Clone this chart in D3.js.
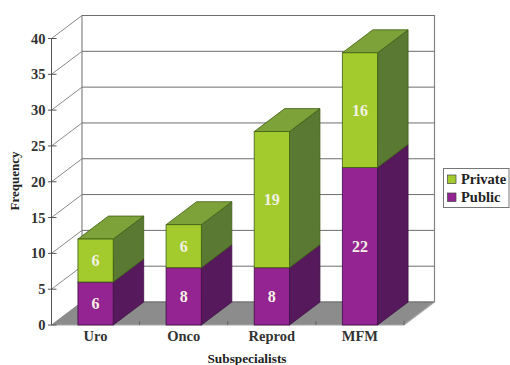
<!DOCTYPE html>
<html>
<head>
<meta charset="utf-8">
<script src="https://cdn.jsdelivr.net/npm/d3@7"></script>
<style>
html,body{margin:0;padding:0;background:#fff}
svg{display:block}
text{font-family:"Liberation Serif",serif;font-weight:bold}
</style>
</head>
<body>
<svg id="chart" width="510" height="365"></svg>
<script>
// Stacked 3D column chart of subspecialist frequency by practice type
const categories = ["Uro", "Onco", "Reprod", "MFM"];
const publicValues = [6, 8, 8, 22];
const privateValues = [6, 6, 19, 16];
const yTicks = [0, 5, 10, 15, 20, 25, 30, 35, 40];
const seriesNames = ["Private", "Public"];

const depthX = 30.5, depthY = -23;
const svg = d3.select("#chart");

const x = d3.scaleBand().domain(categories).range([51.5, 404]).paddingInner(0.6).paddingOuter(0.3);
const y = d3.scaleLinear().domain([0, 40]).range([325, 38.5]);

const faces = {
  Public:  {front: "#942491", side: "#561a5c", top: "#6c2070", stroke: "#3c0f44"},
  Private: {front: "#a3cb2e", side: "#5a7a33", top: "#7ea23a", stroke: "#3f5e14"}
};

const poly = pts => pts.map(p => p.join(",")).join(" ");
const x0 = x.range()[0], x1 = x.range()[1], y0 = y(0), yTop = y(40);

// Floor and back/side walls
svg.append("polygon")
  .attr("points", poly([[x0, y0], [x1, y0], [x1 + depthX, y0 + depthY], [x0 + depthX, y0 + depthY]]))
  .attr("fill", "#8c8c8c");
svg.append("polyline")
  .attr("points", poly([[x0 + depthX, y0 + depthY], [x0 + depthX, yTop + depthY], [x1 + depthX, yTop + depthY], [x1 + depthX, y0 + depthY], [x0 + depthX, y0 + depthY]]))
  .attr("fill", "#fff").attr("stroke", "#858585").attr("stroke-width", 1.2);

// Gridlines on the back wall and their returns on the left wall
const grid = svg.append("g").attr("fill", "none").attr("stroke-width", 1);
yTicks.forEach(t => {
  grid.append("line").attr("x1", x0).attr("y1", y(t)).attr("x2", x0 + depthX).attr("y2", y(t) + depthY).attr("stroke", "#8a8a8a");
  grid.append("line").attr("x1", x0 + depthX).attr("y1", y(t) + depthY).attr("x2", x1 + depthX).attr("y2", y(t) + depthY).attr("stroke", "#6e6e6e");
});

// Axis lines, ticks and the front edges of the floor
const axes = svg.append("g").attr("fill", "none");
axes.append("line").attr("x1", x0).attr("x2", x0).attr("y1", y0).attr("y2", yTop).attr("stroke", "#555");
axes.append("polyline").attr("points", poly([[x0, y0], [x1, y0], [x1 + depthX, y0 + depthY]])).attr("stroke", "#a6a6a6").attr("stroke-width", 1.2);
yTicks.forEach(t => {
  axes.append("line").attr("x1", x0 - 3.5).attr("x2", x0 + 5).attr("y1", y(t)).attr("y2", y(t)).attr("stroke", "#555");
  svg.append("text").attr("x", 45.5).attr("y", y(t) + 5).attr("text-anchor", "end").attr("font-size", 14.5).attr("fill", "#333").text(t);
});
const step = x.step();
categories.forEach((c, i) => {
  const tx = x(c) + x.bandwidth() + (step - x.bandwidth()) / 2;
  axes.append("line").attr("x1", tx).attr("x2", tx).attr("y1", y0 - 4).attr("y2", y0).attr("stroke", "#666");
  svg.append("text").attr("x", x(c) + x.bandwidth() / 2).attr("y", 341).attr("text-anchor", "middle").attr("font-size", 14.5).attr("fill", "#333").text(c);
});

// One cuboid per stacked segment
function drawSegment(g, cat, lo, hi, style, label) {
  const l = x(cat), r = l + x.bandwidth();
  const yb = y(lo), yt = y(hi);
  g.append("polygon").attr("points", poly([[r, yb], [r + depthX, yb + depthY], [r + depthX, yt + depthY], [r, yt]]))
    .attr("fill", style.side).attr("stroke", style.stroke).attr("stroke-width", 0.8);
  g.append("polygon").attr("points", poly([[l, yt], [r, yt], [r + depthX, yt + depthY], [l + depthX, yt + depthY]]))
    .attr("fill", style.top).attr("stroke", style.stroke).attr("stroke-width", 0.8);
  g.append("rect").attr("x", l).attr("y", yt).attr("width", r - l).attr("height", yb - yt)
    .attr("fill", style.front).attr("stroke", style.stroke).attr("stroke-width", 0.8);
  g.append("text").attr("x", (l + r) / 2).attr("y", (yb + yt) / 2 + 5.5)
    .attr("text-anchor", "middle").attr("font-size", 16).attr("fill", "#f4f1e4").text(label);
}
const bars = svg.append("g");
categories.forEach((c, i) => {
  const a = publicValues[i], b = privateValues[i];
  drawSegment(bars, c, 0, a, faces.Public, a);
  drawSegment(bars, c, a, a + b, faces.Private, b);
});

// Axis titles
svg.append("text").attr("transform", "translate(19,181) rotate(-90)").attr("text-anchor", "middle").attr("font-size", 13).attr("fill", "#222").text("Frequency");
svg.append("text").attr("x", 247).attr("y", 362.5).attr("text-anchor", "middle").attr("font-size", 13.3).attr("fill", "#222").text("Subspecialists");

// Legend
const legend = svg.append("g");
legend.append("rect").attr("x", 443.5).attr("y", 168.5).attr("width", 65.5).attr("height", 39).attr("fill", "#fff").attr("stroke", "#777");
seriesNames.forEach((s, i) => {
  const ly = 175 + i * 18;
  legend.append("rect").attr("x", 447.5).attr("y", ly).attr("width", 8.5).attr("height", 8.5).attr("fill", faces[s].front).attr("stroke", "#444").attr("stroke-width", 0.7);
  legend.append("text").attr("x", 461).attr("y", ly + 9).attr("font-size", 14.5).attr("fill", "#222").text(s);
});
</script>
</body>
</html>
